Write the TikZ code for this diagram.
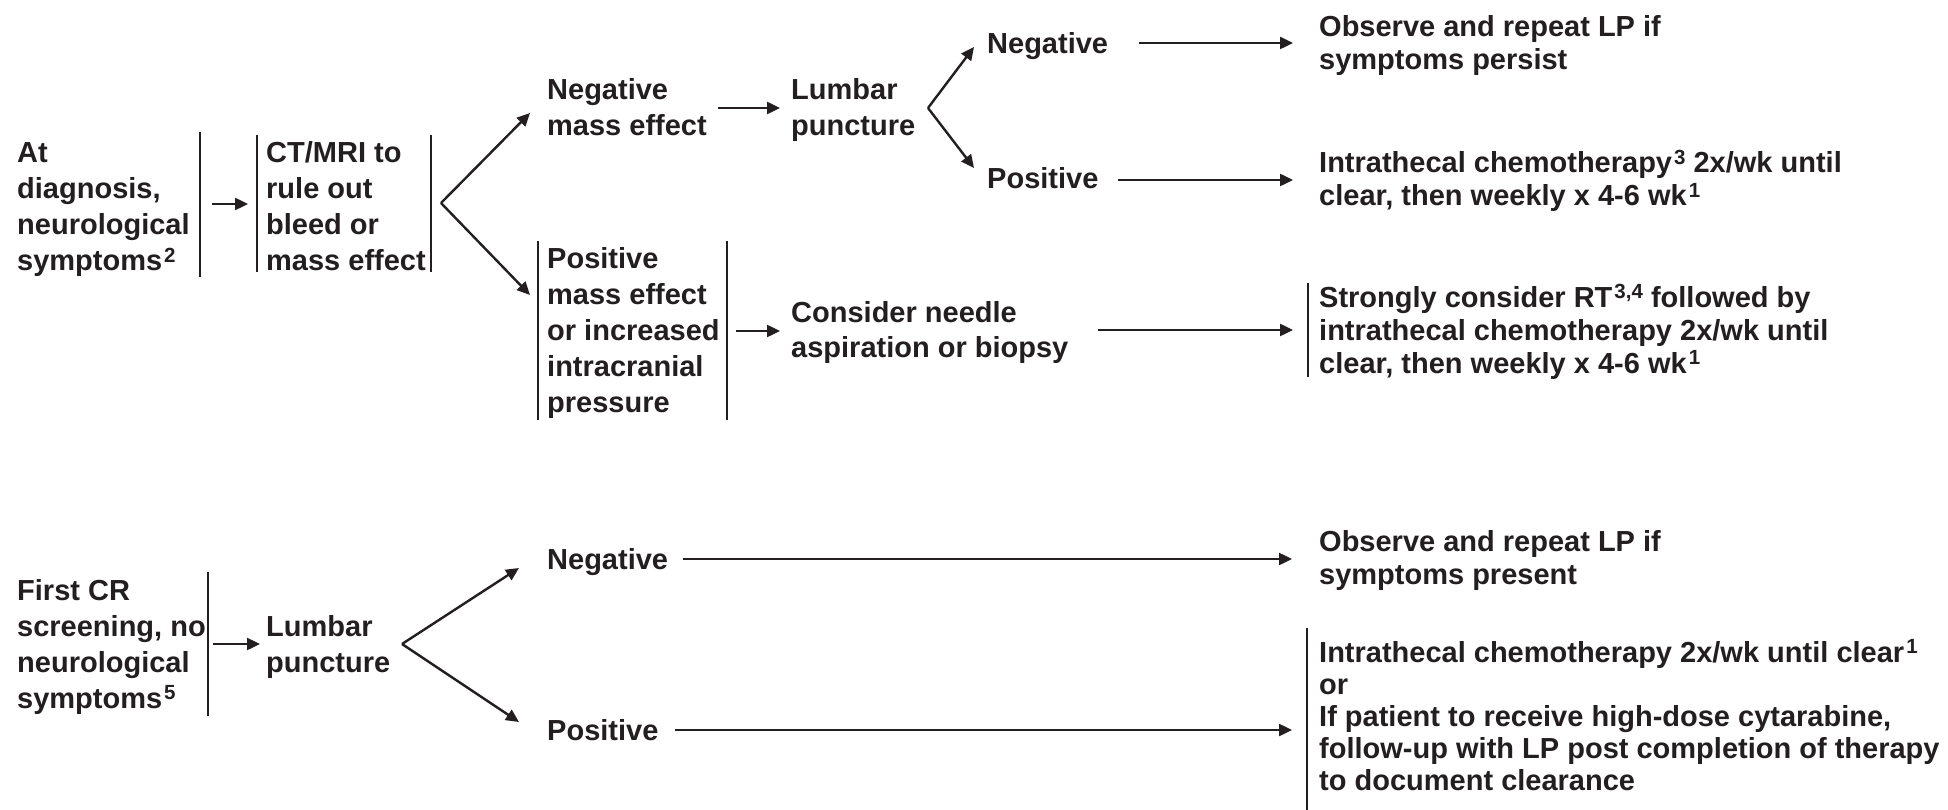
\documentclass[tikz,border=0pt]{standalone}
\usepackage{fontspec}
\setmainfont{Liberation Sans}
\usetikzlibrary{arrows.meta}
\definecolor{ink}{HTML}{231F20}
\newcommand\sups[1]{\kern2pt\raisebox{8.5pt}{\fontsize{20.5}{20.5}\selectfont #1}}
\begin{document}
\begin{tikzpicture}[x=1pt,y=-1pt,
  lt/.style={font=\bfseries\fontsize{29}{36}\selectfont, text=ink, inner sep=0pt, align=left, anchor=base west},
  rt/.style={lt, font=\bfseries\fontsize{29}{33}\selectfont},
  arr/.style={draw=ink, line width=2.4pt, -{Triangle[length=13pt,width=12pt]}},
  bar/.style={draw=ink, line width=2.4pt}]
\useasboundingbox[fill=white] (0,0) rectangle (1948,810);

% (node positions give the baseline of the LAST line of each text)
% ---- top block
\node[lt] (diag) at (17,271) {At\\diagnosis,\\neurological\\symptoms\sups{2}};
\draw[bar] (200,132) -- (200,277);
\node[lt] (ct) at (266,271) {CT/MRI to\\rule out\\bleed or\\mass effect};
\draw[bar] (257,135) -- (257,272);
\draw[bar] (431,135) -- (431,272);
\coordinate (a1s) at (212,204);
\coordinate (a1e) at (248,204);
\draw[arr] (a1s) -- (a1e);

\coordinate (v1) at (441,203);
\coordinate (v1a) at (530,113);
\coordinate (v1b) at (530,295);
\draw[arr] (v1) -- (v1a);
\draw[arr] (v1) -- (v1b);

\node[lt] (negm) at (547,136) {Negative\\mass effect};
\coordinate (a2s) at (718,108);
\coordinate (a2e) at (780,108);
\draw[arr] (a2s) -- (a2e);
\node[lt] (lp1) at (791,136) {Lumbar\\puncture};

\coordinate (v2) at (928,108);
\coordinate (v2a) at (974,47);
\coordinate (v2b) at (974,168);
\draw[arr] (v2) -- (v2a);
\draw[arr] (v2) -- (v2b);

\node[lt] (neg1) at (987,54) {Negative};
\coordinate (a3s) at (1139,43);
\coordinate (a3e) at (1293,43);
\draw[arr] (a3s) -- (a3e);
\node[lt] (pos1) at (987,189) {Positive};
\coordinate (a4s) at (1118,180);
\coordinate (a4e) at (1293,180);
\draw[arr] (a4s) -- (a4e);

\node[rt] (obs1) at (1319,70) {Observe and repeat LP if\\symptoms persist};
\node[rt] (it1) at (1319,206) {Intrathecal chemotherapy\sups{3} 2x/wk until\\clear, then weekly x 4-6 wk\sups{1}};

\node[lt] (posm) at (547,412) {Positive\\mass effect\\or increased\\intracranial\\pressure};
\draw[bar] (538,241) -- (538,420);
\draw[bar] (727,241) -- (727,420);
\coordinate (a5s) at (736,331);
\coordinate (a5e) at (780,331);
\draw[arr] (a5s) -- (a5e);
\node[lt, font=\bfseries\fontsize{29}{35}\selectfont] (cons) at (791,357) {Consider needle\\aspiration or biopsy};
\coordinate (a6s) at (1098,330);
\coordinate (a6e) at (1293,330);
\draw[arr] (a6s) -- (a6e);
\draw[bar] (1308,283) -- (1308,377);
\node[rt] (rt1) at (1319,373) {Strongly consider RT\sups{3,4} followed by\\intrathecal chemotherapy 2x/wk until\\clear, then weekly x 4-6 wk\sups{1}};

% ---- bottom block
\node[lt] (cr) at (17,708) {First CR\\screening, no\\neurological\\symptoms\sups{5}};
\draw[bar] (208,572) -- (208,716);
\coordinate (b1s) at (213,644);
\coordinate (b1e) at (260,644);
\draw[arr] (b1s) -- (b1e);
\node[lt] (lp2) at (266,672) {Lumbar\\puncture};

\coordinate (v3) at (402,644);
\coordinate (v3a) at (519,568);
\coordinate (v3b) at (519,722);
\draw[arr] (v3) -- (v3a);
\draw[arr] (v3) -- (v3b);

\node[lt] (neg2) at (547,569) {Negative};
\coordinate (b2s) at (683,559);
\coordinate (b2e) at (1292,559);
\draw[arr] (b2s) -- (b2e);
\node[lt] (pos2) at (547,740) {Positive};
\coordinate (b3s) at (675,730);
\coordinate (b3e) at (1292,730);
\draw[arr] (b3s) -- (b3e);

\node[rt] (obs2) at (1319,584) {Observe and repeat LP if\\symptoms present};
\draw[bar] (1307,628) -- (1307,810);
\node[rt, font=\bfseries\fontsize{29}{32}\selectfont] (it2) at (1319,790) {Intrathecal chemotherapy 2x/wk until clear\sups{1}\\or\\If patient to receive high-dose cytarabine,\\follow-up with LP post completion of therapy\\to document clearance};
\end{tikzpicture}
\end{document}
